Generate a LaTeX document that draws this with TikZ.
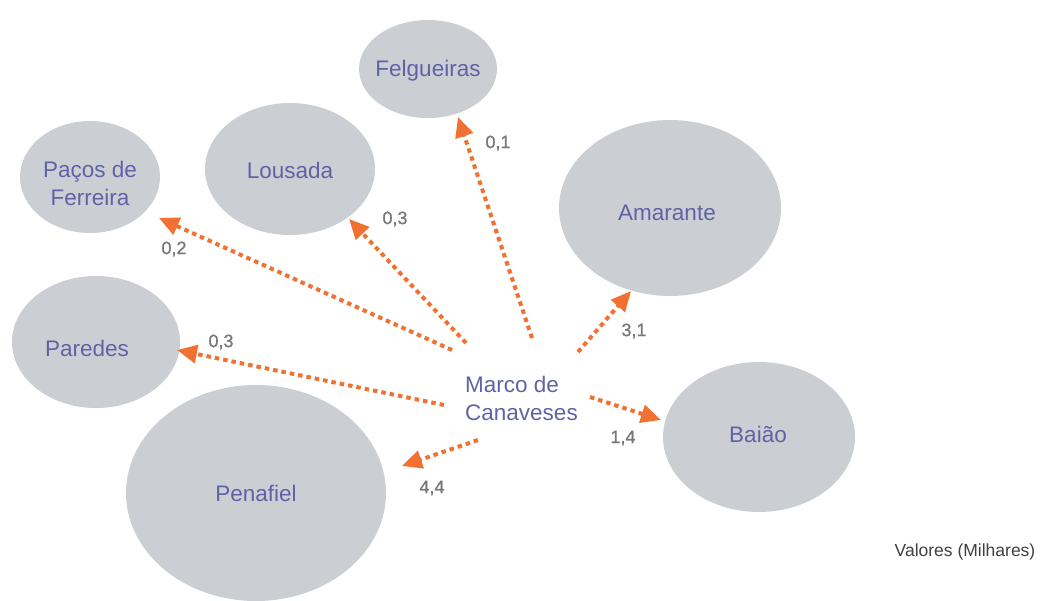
\documentclass[tikz,border=0pt]{standalone}
\usepackage{fontspec}
\setmainfont{Liberation Sans}
\newfontfamily\valfont[FakeBold=0.9]{Liberation Sans}
\usetikzlibrary{arrows.meta}
\definecolor{bub}{HTML}{CBCFD4}
\definecolor{txt}{HTML}{6062A6}
\definecolor{arr}{HTML}{F07132}
\definecolor{lab}{HTML}{787878}
\tikzset{
  townlabel/.style={text=txt, font=\fontsize{22.5}{28}\selectfont, inner sep=0pt, align=center},
  flow/.style={draw=arr, line width=4pt, dash pattern=on 4.5pt off 4pt, -{Triangle[length=20pt,width=18pt,fill=arr]}},
  val/.style={text=lab, font=\valfont\fontsize{18}{21}\selectfont, inner sep=0pt}
}
\begin{document}
\begin{tikzpicture}[x=1pt,y=-1pt]
\useasboundingbox (0,0) rectangle (1040,600);
\begin{scope}
\clip (0,0) rectangle (1040,600);
\fill[bub] (428,69) ellipse [x radius=69, y radius=49];
\fill[bub] (290,169) ellipse [x radius=85, y radius=66];
\fill[bub] (90,177) ellipse [x radius=70, y radius=56];
\fill[bub] (670,208) ellipse [x radius=111, y radius=88];
\fill[bub] (96,342) ellipse [x radius=84, y radius=66];
\fill[bub] (256,493) ellipse [x radius=130, y radius=108];
\fill[bub] (759,437) ellipse [x radius=96, y radius=75];
\end{scope}
\node[townlabel] (felg) at (428,71) {Felgueiras};
\node[townlabel] (lous) at (290,170) {Lousada};
\node[townlabel] (paco) at (90,183) {Paços de\\Ferreira};
\node[townlabel] (amar) at (667,213) {Amarante};
\node[townlabel] (pare) at (87,348) {Paredes};
\node[townlabel] (pena) at (256,493) {Penafiel};
\node[townlabel] (baia) at (758,434) {Baião};
\node[townlabel, align=left, anchor=west] (marco) at (465,398) {Marco de\\Canaveses};

\coordinate (sF) at (532,338); \coordinate (tF) at (458,117);
\coordinate (sL) at (466,343); \coordinate (tL) at (349,219);
\coordinate (sP) at (452,350); \coordinate (tP) at (159,218);
\coordinate (sR) at (444,405); \coordinate (tR) at (177,350);
\coordinate (sN) at (478,440); \coordinate (tN) at (402,466);
\coordinate (sB) at (590,397); \coordinate (tB) at (661,420);
\coordinate (sA) at (578,352); \coordinate (tA) at (631,291);
\draw[flow] (sF) -- (tF);
\draw[flow] (sL) -- (tL);
\draw[flow] (sP) -- (tP);
\draw[flow] (sR) -- (tR);
\draw[flow] (sN) -- (tN);
\draw[flow] (sB) -- (tB);
\draw[flow] (sA) -- (tA);

\node[val] (vF) at (498,143) {0,1};
\node[val] (vL) at (395,219) {0,3};
\node[val] (vP) at (174,249) {0,2};
\node[val] (vR) at (221,342) {0,3};
\node[val] (vN) at (432,488) {4,4};
\node[val] (vB) at (623,438) {1,4};
\node[val] (vA) at (634,331) {3,1};
\node[text=black!75, font=\fontsize{17.5}{20}\selectfont, inner sep=0pt] (leg) at (965,552) {Valores (Milhares)};
\end{tikzpicture}
\end{document}
